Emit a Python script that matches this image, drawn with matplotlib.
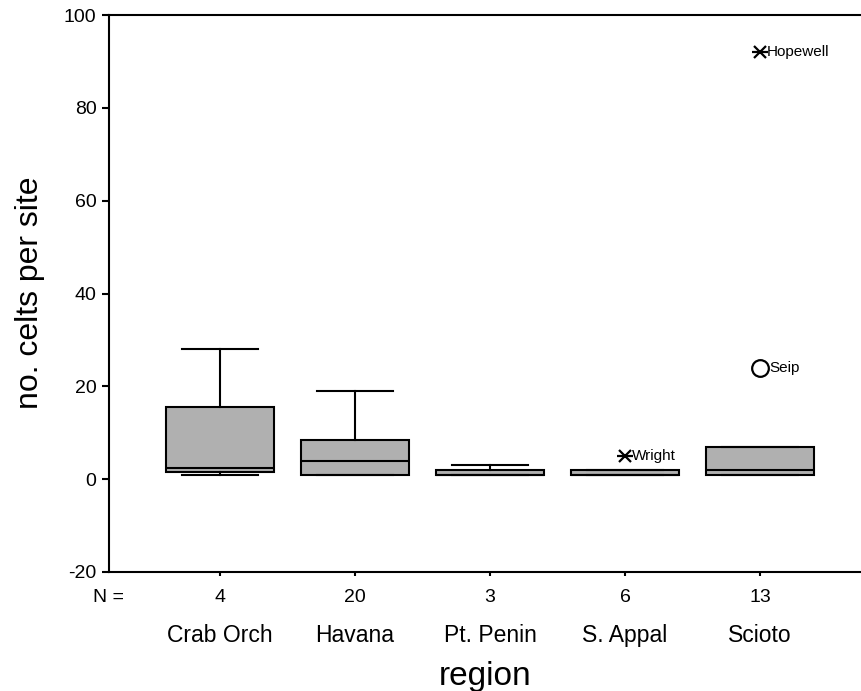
import matplotlib
matplotlib.use("Agg")
import matplotlib.pyplot as plt

plt.rcParams['font.family'] = ['Liberation Sans', 'DejaVu Sans']
plt.rcParams['axes.unicode_minus'] = False

# data
regions = ["Crab Orch", "Havana", "Pt. Penin", "S. Appal", "Scioto"]
n_sites = [4, 20, 3, 6, 13]
q1 = [1.5, 1, 1, 1, 1]
median = [2.5, 4, 1, 1, 2]
q3 = [15.5, 8.5, 2, 2, 7]
whisker_low = [1, 1, 1, 1, 1]
whisker_high = [28, 19, 3, 2, 7]

# outliers (circle) and extremes (star)
outlier_names = ["Wright", "Seip", "Hopewell"]
outlier_region = [4, 5, 5]
outlier_values = [5, 24, 92]
outlier_kind = ["extreme", "outlier", "extreme"]

fig = plt.figure(figsize=(8.61, 6.91), dpi=100)
ax = fig.add_axes([109 / 861, 1 - 572 / 691, 1 - 109 / 861, (572 - 15) / 691])

positions = list(range(1, len(regions) + 1))
stats = []
for i in range(len(regions)):
    stats.append({"med": median[i], "q1": q1[i], "q3": q3[i],
                  "whislo": whisker_low[i], "whishi": whisker_high[i], "fliers": []})

lw = 1.5
ax.bxp(stats, positions=positions, widths=0.8, capwidths=0.56, patch_artist=True,
       showfliers=False,
       boxprops=dict(facecolor="#b0b0b0", edgecolor="black", linewidth=lw),
       medianprops=dict(color="black", linewidth=lw),
       whiskerprops=dict(color="black", linewidth=lw),
       capprops=dict(color="black", linewidth=lw))

for name, reg, val, kind in zip(outlier_names, outlier_region, outlier_values, outlier_kind):
    if kind == "extreme":
        ax.plot(reg, val, marker="x", ms=9, mew=1.6, color="black", zorder=5)
        ax.plot(reg, val, marker="_", ms=11, mew=1.6, color="black", zorder=5)
        off = 5
    else:
        ax.plot(reg, val, marker="o", ms=12, mew=1.6, mfc="white", mec="black", zorder=5)
        off = 6.5
    ax.annotate(name, xy=(reg, val), xytext=(off, 0), textcoords="offset points",
                ha="left", va="center", fontsize=11)

ax.set_xlim(0.178, 5.748)
ax.set_ylim(-20, 100)
ax.set_yticks([-20, 0, 20, 40, 60, 80, 100])
ax.tick_params(axis="y", direction="out", length=5, width=lw, labelsize=14, pad=4)
ax.set_xticks(positions)
ax.set_xticklabels([])
ax.tick_params(axis="x", direction="out", length=3, width=lw)

for side in ["left", "bottom", "top"]:
    ax.spines[side].set_linewidth(lw)
ax.spines["right"].set_visible(False)

# N = row and region names below the axis
ax.annotate("N =", xy=(0, 0), xycoords="axes fraction", xytext=(0, -18),
            textcoords="offset points", ha="center", va="center", fontsize=14)
for p, n, r in zip(positions, n_sites, regions):
    ax.annotate(str(n), xy=(p, 0), xycoords=("data", "axes fraction"), xytext=(0, -18),
                textcoords="offset points", ha="center", va="center", fontsize=14)
    ax.annotate(r, xy=(p, 0), xycoords=("data", "axes fraction"), xytext=(0, -46),
                textcoords="offset points", ha="center", va="center", fontsize=16.5)

fig.text(485 / 861, 1 - 677 / 691, "region", ha="center", va="center", fontsize=24)
fig.text(30 / 861, 1 - 293 / 691, "no. celts per site", ha="center", va="center",
         rotation=90, fontsize=23)

fig.savefig("out.png", dpi=100)
